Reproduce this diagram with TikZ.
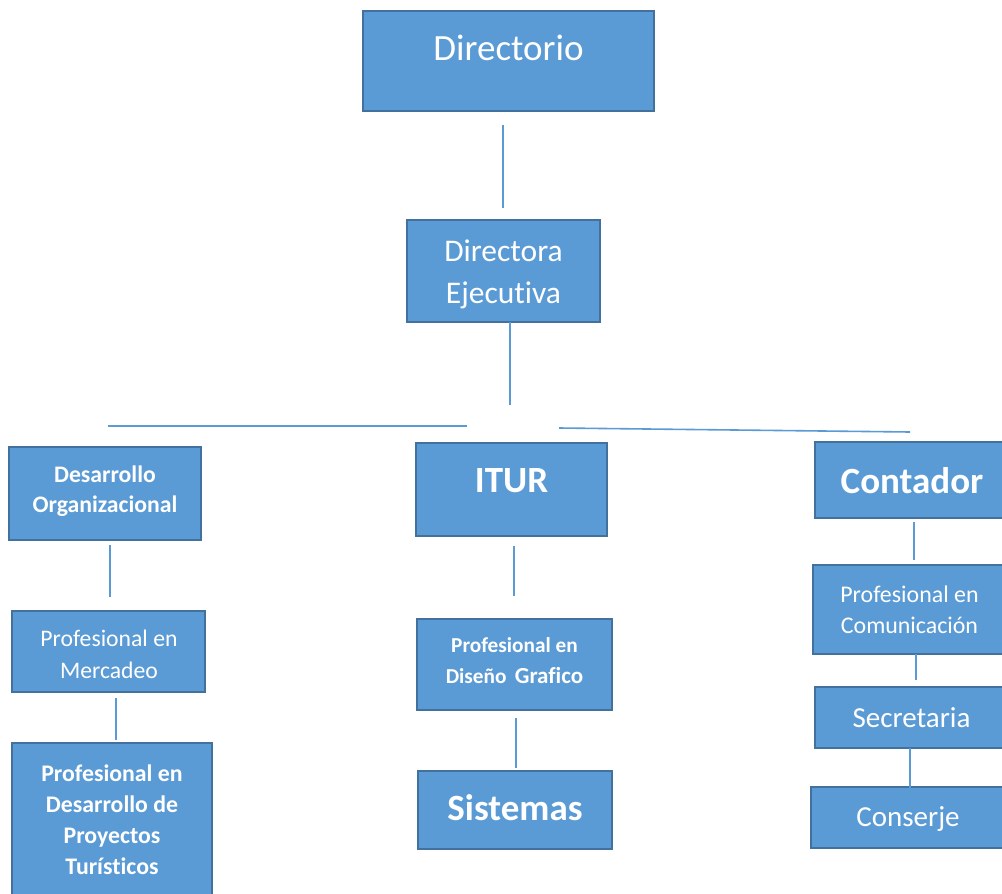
\documentclass[tikz,border=0pt]{standalone}
\usepackage{fontspec}
\setmainfont{Carlito}[Ligatures=NoCommon]
\definecolor{boxfill}{HTML}{5B9BD5}
\definecolor{boxedge}{HTML}{41719C}
\definecolor{linec}{HTML}{5B9BD5}
\tikzset{
  box/.style={draw=boxedge, fill=boxfill, line width=2pt, rectangle, inner sep=0pt},
  txt/.style={text=white, align=center, inner sep=0pt},
  conn/.style={draw=linec, line width=1.6pt},
}
\newcommand{\fs}[2]{\fontsize{#1}{#2}\selectfont}
\begin{document}
\begin{tikzpicture}[x=1pt,y=-1pt]
\useasboundingbox (0,0) rectangle (1002,894);
\fill[white] (0,0) rectangle (1002,894);
\begin{scope}
\clip (0,0) rectangle (1002,894);
% boxes
\node[box, minimum width=291pt, minimum height=100pt] (dir) at (508.5,61) {};
\node[txt, font=\fs{37}{44}] (dirt) at (508.5,48) {Directorio};

\node[box, minimum width=193pt, minimum height=102pt] (dej) at (503.5,271) {};
\node[txt, font=\fs{31.5}{42}] (dejt) at (503.5,274.5) {Directora\\Ejecutiva};

\node[box, minimum width=192pt, minimum height=93pt] (des) at (105,493.5) {};
\node[txt, font=\bfseries\fs{23.7}{30}] (dest) at (105,491.5) {Desarrollo\\Organizacional};

\node[box, minimum width=191pt, minimum height=93pt] (itur) at (511.5,489.5) {};
\node[txt, font=\bfseries\fs{37}{44}] (itut) at (511.5,480.5) {ITUR};

\node[box, minimum width=200pt, minimum height=76pt] (cont) at (915,480) {};
\node[txt, font=\bfseries\fs{37}{44}] (cont t) at (912,480.5) {Contador};

\node[box, minimum width=193pt, minimum height=81pt] (mer) at (108.5,651.5) {};
\node[txt, font=\fs{23.7}{32}] (mert) at (109,654) {Profesional en\\Mercadeo};

\node[box, minimum width=200pt, minimum height=160pt] (proy) at (112,823) {};
\node[txt, font=\bfseries\fs{23.8}{31}] (proyt) at (112,819.5) {Profesional en\\Desarrollo de\\Proyectos\\Turísticos};

\node[box, minimum width=195pt, minimum height=91pt] (dis) at (514.5,664.5) {};
\node[txt, font=\bfseries\fs{21.3}{31}] (dist) at (514.5,660.5) {Profesional en\\Diseño \,{\fs{23}{31}Grafico}};

\node[box, minimum width=194pt, minimum height=78pt] (sis) at (515,810) {};
\node[txt, font=\bfseries\fs{37}{44}] (sist) at (515,808) {Sistemas};

\node[box, minimum width=200pt, minimum height=89pt] (com) at (913,609.5) {};
\node[txt, font=\fs{23.9}{31}] (comt) at (909.5,609.5) {Profesional en\\Comunicación};

\node[box, minimum width=200pt, minimum height=61pt] (sec) at (915,717.5) {};
\node[txt, font=\fs{29}{34}] (sect) at (911.5,718) {Secretaria};

\node[box, minimum width=200pt, minimum height=61pt] (con) at (911,817.5) {};
\node[txt, font=\fs{29}{34}] (cont2) at (908,819) {Conserje};
\end{scope}

% connector end points
\coordinate (a1) at (503,125); \coordinate (a2) at (503,208);
\coordinate (b1) at (510,322); \coordinate (b2) at (510,405);
\coordinate (h1) at (108,426); \coordinate (h2) at (467,426);
\coordinate (h3) at (559,428); \coordinate (h4) at (910,432);
\coordinate (c1) at (110,545); \coordinate (c2) at (110,597);
\coordinate (d1) at (116,698); \coordinate (d2) at (116,740);
\coordinate (e1) at (514,546); \coordinate (e2) at (514,596);
\coordinate (f1) at (516,718); \coordinate (f2) at (516,768);
\coordinate (g1) at (914,522); \coordinate (g2) at (914,560);
\coordinate (k1) at (916,654); \coordinate (k2) at (916,680);
\coordinate (m1) at (910,748); \coordinate (m2) at (910,788);

\draw[conn] (a1) -- (a2);
\draw[conn] (b1) -- (b2);
\draw[conn] (h1) -- (h2);
\draw[conn] (h3) -- (h4);
\draw[conn] (c1) -- (c2);
\draw[conn] (d1) -- (d2);
\draw[conn] (e1) -- (e2);
\draw[conn] (f1) -- (f2);
\draw[conn] (g1) -- (g2);
\draw[conn] (k1) -- (k2);
\draw[conn] (m1) -- (m2);
\end{tikzpicture}
\end{document}
